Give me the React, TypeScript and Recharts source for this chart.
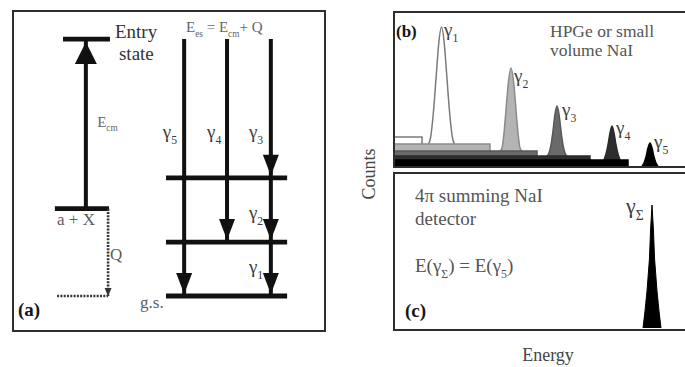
import React from 'react';
import { ComposedChart, Line, Area, Scatter, XAxis, YAxis } from 'recharts';

const FONT = '"Liberation Serif", "Times New Roman", Times, serif';

// ---------------- Panel (a): level scheme (energy units, MeV-like) ----------------
const levelIds = ['entry', 'aX', 'l2', 'l1', 'gs'];
const levelEnergy = [10.0, 3.4, 4.6, 2.1, 0.0];

const gammaIds = ['g1', 'g2', 'g3', 'g4', 'g5'];
const gammaFrom = [2.1, 4.6, 10.0, 10.0, 10.0];
const gammaTo = [0.0, 2.1, 4.6, 2.1, 0.0];

const captureFrom = 3.4; // a + X
const captureTo = 10.0; // entry state
const qBottom = 0.0; // ground state reference

// ---------------- Panel (b): HPGe spectrum (channel, counts) ----------------
const comptonEdgeCh = [27, 95, 142, 195, 233];
const comptonTopCounts = [29, 22, 15, 10, 6];

const peak1Ch = [33.5, 35.5, 37.5, 39.5, 41.5, 43.5, 46.5, 49.5, 51.5, 53.5, 55.5, 57.5, 59.5];
const peak1Counts = [22, 28, 44, 67, 94, 120, 139, 120, 94, 67, 44, 28, 22];
const peak2Ch = [105, 107, 109, 111, 113, 116, 119, 121, 123, 125, 127];
const peak2Counts = [15, 18, 33, 56, 80, 98, 80, 56, 33, 18, 15];
const peak3Ch = [152, 154, 156, 158, 160, 162, 164, 166, 168, 170, 172];
const peak3Counts = [10, 13, 21, 35, 52, 60, 52, 35, 21, 13, 10];
const peak4Ch = [209, 211, 213, 215, 217, 219, 221, 223, 225];
const peak4Counts = [6, 12, 21, 33, 40, 33, 21, 12, 6];
const peak5Ch = [247, 249, 251, 253, 255, 257, 259, 261, 263];
const peak5Counts = [0, 3, 9, 18, 23, 18, 9, 3, 0];

// ---------------- Panel (c): 4pi summing spectrum ----------------
const sumPeakCh = [248, 250, 252, 254.5, 255.5, 257, 258.5, 259.5, 262, 264, 266];
const sumPeakCounts = [0, 17, 37, 70, 97, 123, 97, 70, 37, 17, 0];

// ---------------- Text labels ----------------
const aLabels = [
  { x: 32.9, y: 10.04, text: 'Entry\nstate', s: 'dark' },
  { x: 55.6, y: 10.27, text: 'E_{es} = E_{cm}+ Q', s: 'small' },
  { x: 27.2, y: 6.58, text: 'E_{cm}', s: 'small' },
  { x: 48.2, y: 6.15, text: 'γ_{5}', s: 'gamma' },
  { x: 62.3, y: 6.15, text: 'γ_{4}', s: 'gamma' },
  { x: 75.7, y: 6.15, text: 'γ_{3}', s: 'gamma' },
  { x: 75.7, y: 3.0, text: 'γ_{2}', s: 'gamma' },
  { x: 75.7, y: 0.9, text: 'γ_{1}', s: 'gamma' },
  { x: 14.4, y: 2.76, text: 'a + X', s: 'mid' },
  { x: 31.3, y: 1.4, text: 'Q', s: 'mid' },
  { x: 40.9, y: -0.47, text: 'g.s.', s: 'mid' },
  { x: 1.9, y: -0.78, text: '(a)', s: 'panel' },
];

const bLabels = [
  { ch: 1, v: 129, text: '(b)', s: 'panelSm' },
  { ch: 49, v: 130, text: 'γ_{1}', s: 'gamma' },
  { ch: 119, v: 84, text: 'γ_{2}', s: 'gamma' },
  { ch: 167, v: 50, text: 'γ_{3}', s: 'gamma' },
  { ch: 221, v: 32, text: 'γ_{4}', s: 'gamma' },
  { ch: 259, v: 18, text: 'γ_{5}', s: 'gamma' },
  { ch: 155, v: 129, text: 'HPGe or small\nvolume NaI', s: 'noteB' },
];

const cLabels = [
  { ch: 20, v: 126, text: '4π summing NaI\ndetector', s: 'noteC' },
  { ch: 20, v: 56, text: 'E(γ_{Σ}) = E(γ_{5})', s: 'noteC' },
  { ch: 10, v: 11, text: '(c)', s: 'panel' },
  { ch: 231, v: 115, text: 'γ_{Σ}', s: 'gammaBig' },
];

// ---------------- Layout / style (not data) ----------------
const A_LEVEL_SPAN: Record<string, [number, number]> = {
  entry: [16.3, 31.3],
  aX: [13.7, 31.0],
  l2: [49.2, 87.9],
  l1: [49.2, 87.9],
  gs: [49.2, 87.9],
};
const A_GAMMA_LANE = [82.7, 82.7, 82.7, 68.7, 55.0];
const A_CAPTURE_LANE = 23.6;
const A_Q_LANE = 30.7;
const A_Q_START = 14.4;

const TEXT_STYLES: Record<string, { size: number; color: string; weight?: number; gap?: number; indent?: number[] }> = {
  dark: { size: 19, color: '#333', gap: 22, indent: [0, 4] },
  small: { size: 15, color: '#666' },
  gamma: { size: 19, color: '#3c3c3c' },
  gammaBig: { size: 22, color: '#3c3c3c' },
  mid: { size: 17, color: '#5c5c5c' },
  panel: { size: 19, color: '#151515', weight: 700 },
  panelSm: { size: 17, color: '#151515', weight: 700 },
  noteB: { size: 17.5, color: '#555', gap: 19 },
  noteC: { size: 19, color: '#555', gap: 23 },
};

const LAYER_FILL = ['#ffffff', '#b4b4b4', '#6a6a6a', '#2e2e2e', '#000000'];
const LAYER_STROKE = ['#7a7a7a', '#8a8a8a', '#585858', '#2a2a2a', '#000000'];

function renderPieces(line: string, size: number, keyBase: string) {
  const pieces = line.split(/(_\{[^}]*\})/).filter((p) => p.length > 0);
  const shift = size * 0.3;
  let inSub = false;
  return pieces.map((p, i) => {
    if (p.startsWith('_{')) {
      const el = (
        <tspan key={`${keyBase}-${i}`} dy={inSub ? 0 : shift} fontSize={size * 0.62}>
          {p.slice(2, -1)}
        </tspan>
      );
      inSub = true;
      return el;
    }
    const el = (
      <tspan key={`${keyBase}-${i}`} dy={inSub ? -shift : 0}>
        {p}
      </tspan>
    );
    inSub = false;
    return el;
  });
}

function RichText({ x, y, text, style }: { x: number; y: number; text: string; style: string }) {
  const st = TEXT_STYLES[style];
  const lines = text.split('\n');
  return (
    <text x={x} y={y} fontFamily={FONT} fontSize={st.size} fontWeight={st.weight || 400} fill={st.color}>
      {lines.map((line, li) => (
        <tspan key={li} x={x + (st.indent ? st.indent[li] || 0 : 0)} y={y + li * (st.gap || 0)}>
          {renderPieces(line, st.size, String(li))}
        </tspan>
      ))}
    </text>
  );
}

const labelShape = (props: any) => {
  const { cx, cy, payload } = props;
  if (cx == null || cy == null) return <g />;
  return <RichText x={cx} y={cy} text={payload.text} style={payload.s} />;
};

const downHead = (len: number, half: number, color: string, lift: number) => (props: any) => {
  const { cx, cy } = props;
  if (cx == null || cy == null) return <g />;
  const tip = cy - lift;
  return <polygon points={`${cx},${tip} ${cx - half},${tip - len} ${cx + half},${tip - len}`} fill={color} />;
};
const upHead = (len: number, half: number, color: string, drop: number) => (props: any) => {
  const { cx, cy } = props;
  if (cx == null || cy == null) return <g />;
  const tip = cy + drop;
  return <polygon points={`${cx},${tip} ${cx - half},${tip + len} ${cx + half},${tip + len}`} fill={color} />;
};

function PanelA() {
  const levelLines = levelIds.map((id, i) => ({
    id,
    data: [
      { x: A_LEVEL_SPAN[id][0], y: levelEnergy[i] },
      { x: A_LEVEL_SPAN[id][1], y: levelEnergy[i] },
    ],
  }));
  const gammaLines = gammaIds.map((id, i) => ({
    id,
    data: [
      { x: A_GAMMA_LANE[i], y: gammaFrom[i] },
      { x: A_GAMMA_LANE[i], y: gammaTo[i] },
    ],
  }));
  const gammaTips = gammaIds.map((id, i) => ({ x: A_GAMMA_LANE[i], y: gammaTo[i], id }));
  return (
    <ComposedChart width={313} height={322} margin={{ top: 0, right: 0, bottom: 0, left: 0 }}>
      <XAxis type="number" dataKey="x" domain={[0, 100]} hide allowDataOverflow />
      <YAxis type="number" dataKey="y" domain={[-1.4, 11.13]} hide allowDataOverflow />
      {levelLines.map((l) => (
        <Line key={l.id} data={l.data} dataKey="y" stroke="#111" strokeWidth={4.8} dot={false} isAnimationActive={false} />
      ))}
      {gammaLines.map((l) => (
        <Line key={l.id} data={l.data} dataKey="y" stroke="#111" strokeWidth={4} dot={false} isAnimationActive={false} />
      ))}
      <Line
        data={[
          { x: A_CAPTURE_LANE, y: captureFrom },
          { x: A_CAPTURE_LANE, y: captureTo },
        ]}
        dataKey="y"
        stroke="#111"
        strokeWidth={4}
        dot={false}
        isAnimationActive={false}
      />
      <Line
        data={[
          { x: A_Q_LANE, y: captureFrom },
          { x: A_Q_LANE, y: qBottom },
        ]}
        dataKey="y"
        stroke="#333"
        strokeWidth={2.6}
        strokeDasharray="2 1.3"
        dot={false}
        isAnimationActive={false}
      />
      <Line
        data={[
          { x: A_Q_START, y: qBottom },
          { x: A_Q_LANE, y: qBottom },
        ]}
        dataKey="y"
        stroke="#333"
        strokeWidth={2.6}
        strokeDasharray="2 1.3"
        dot={false}
        isAnimationActive={false}
      />
      <Scatter data={gammaTips} dataKey="y" shape={downHead(21, 8, '#111', 2)} isAnimationActive={false} />
      <Scatter data={[{ x: A_CAPTURE_LANE, y: captureTo }]} dataKey="y" shape={upHead(22, 11, '#111', 3)} isAnimationActive={false} />
      <Scatter data={[{ x: A_Q_LANE, y: qBottom }]} dataKey="y" shape={downHead(8, 3.5, '#333', 0)} isAnimationActive={false} />
      <Scatter data={aLabels} dataKey="y" shape={labelShape} isAnimationActive={false} />
    </ComposedChart>
  );
}

function PanelB() {
  const peaksCh = [peak1Ch, peak2Ch, peak3Ch, peak4Ch, peak5Ch];
  const peaksCounts = [peak1Counts, peak2Counts, peak3Counts, peak4Counts, peak5Counts];
  const layers = comptonEdgeCh.map((edge, k) => ({
    cont: [
      { ch: 0, v: comptonTopCounts[k] },
      { ch: edge, v: comptonTopCounts[k] },
      { ch: edge, v: 0 },
    ],
    peak: peaksCh[k].map((c, j) => ({ ch: c, v: peaksCounts[k][j] })),
  }));
  return (
    <ComposedChart width={300} height={152} margin={{ top: 0, right: 0, bottom: 0, left: 0 }}>
      <XAxis type="number" dataKey="ch" domain={[0, 300]} hide allowDataOverflow />
      <YAxis type="number" dataKey="v" domain={[0, 152]} hide allowDataOverflow />
      {layers.flatMap((l, k) => [
        <Area
          key={`c${k}`}
          data={l.cont}
          dataKey="v"
          type="linear"
          fill={LAYER_FILL[k]}
          fillOpacity={1}
          stroke={LAYER_STROKE[k]}
          strokeWidth={1.5}
          isAnimationActive={false}
        />,
        <Area
          key={`p${k}`}
          data={l.peak}
          dataKey="v"
          type="monotone"
          fill={LAYER_FILL[k]}
          fillOpacity={1}
          stroke={LAYER_STROKE[k]}
          strokeWidth={1.5}
          isAnimationActive={false}
        />,
      ])}
      <Scatter data={bLabels} dataKey="v" shape={labelShape} isAnimationActive={false} />
    </ComposedChart>
  );
}

function PanelC() {
  const peak = sumPeakCh.map((c, j) => ({ ch: c, v: sumPeakCounts[j] }));
  return (
    <ComposedChart width={300} height={152} margin={{ top: 0, right: 0, bottom: 0, left: 0 }}>
      <XAxis type="number" dataKey="ch" domain={[0, 300]} hide allowDataOverflow />
      <YAxis type="number" dataKey="v" domain={[0, 152]} hide allowDataOverflow />
      <Area data={peak} dataKey="v" type="linear" fill="#000" fillOpacity={1} stroke="#000" strokeWidth={1} isAnimationActive={false} />
      <Scatter data={cLabels} dataKey="v" shape={labelShape} isAnimationActive={false} />
    </ComposedChart>
  );
}

export default function App() {
  const abs = (l: number, t: number, w: number, h: number): React.CSSProperties => ({
    position: 'absolute',
    left: l,
    top: t,
    width: w,
    height: h,
  });
  return (
    <div
      style={{
        position: 'absolute',
        left: 0,
        top: 0,
        width: 685,
        height: 367,
        overflow: 'hidden',
        background: '#fff',
        fontFamily: FONT,
      }}
    >
      <div style={{ ...abs(12, 10, 314, 322), border: '2.5px solid #2e2e2e', boxSizing: 'border-box' }} />
      <div style={{ ...abs(393, 11, 320, 157), border: '2.5px solid #2e2e2e', boxSizing: 'border-box' }} />
      <div style={{ ...abs(393, 172, 320, 159), border: '2.5px solid #2e2e2e', boxSizing: 'border-box' }} />
      <div style={abs(12, 10, 313, 322)}>
        <PanelA />
      </div>
      <div style={abs(395, 14, 300, 152)}>
        <PanelB />
      </div>
      <div style={abs(395, 176, 300, 152)}>
        <PanelC />
      </div>
      <svg width={685} height={367} style={{ position: 'absolute', left: 0, top: 0, pointerEvents: 'none' }}>
        <text x={375} y={174} transform="rotate(-90 375 174)" textAnchor="middle" fontFamily={FONT} fontSize={18} fill="#444">
          Counts
        </text>
        <text x={548} y={361} textAnchor="middle" fontFamily={FONT} fontSize={18} fill="#444">
          Energy
        </text>
      </svg>
    </div>
  );
}
